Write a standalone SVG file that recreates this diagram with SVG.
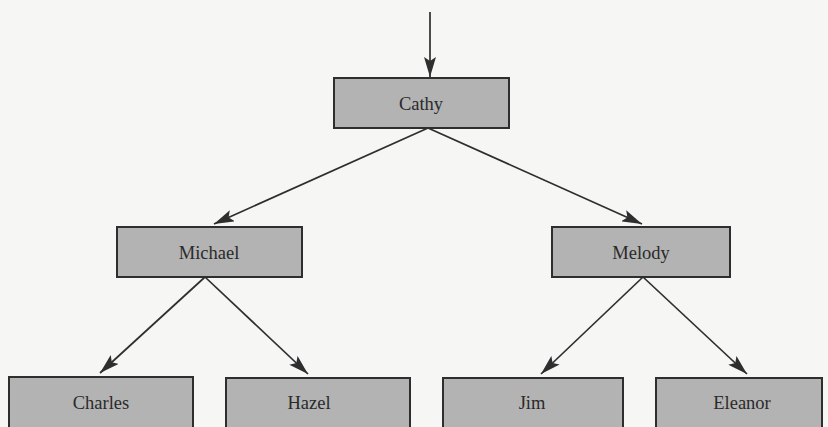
<svg xmlns="http://www.w3.org/2000/svg" width="828" height="427" viewBox="0 0 828 427">
<style>
.box{fill:#b3b3b3;stroke:#2e2e2e;stroke-width:2}
.lbl{font-family:"Liberation Serif",serif;font-size:18.5px;fill:#2a2a2a;text-anchor:middle}
.edge{stroke:#2e2e2e;stroke-width:1.7;fill:none;marker-end:url(#ah)}
</style>
<defs>
<marker id="ah" viewBox="0 0 20 12" refX="20" refY="6" markerWidth="20" markerHeight="12" markerUnits="userSpaceOnUse" orient="auto">
<path d="M0,0 L20,6 L0,12 L4,6 Z" fill="#2e2e2e"/>
</marker>
</defs>
<rect width="828" height="427" fill="#f6f6f4"/>
<g id="connectors">
<line class="edge" x1="430" y1="12" x2="430" y2="77"/>
<line class="edge" x1="428" y1="128" x2="214" y2="224"/>
<line class="edge" x1="428" y1="128" x2="642" y2="224"/>
<line class="edge" x1="205" y1="277" x2="100" y2="373"/>
<line class="edge" x1="205" y1="277" x2="308" y2="374"/>
<line class="edge" x1="643" y1="277" x2="541" y2="374"/>
<line class="edge" x1="643" y1="277" x2="747" y2="374"/>
</g>
<g id="cathy"><rect class="box" x="334" y="78" width="175" height="50"/><text class="lbl" x="421" y="110">Cathy</text></g>
<g id="michael"><rect class="box" x="117" y="227" width="185" height="50"/><text class="lbl" x="209" y="259">Michael</text></g>
<g id="melody"><rect class="box" x="552" y="227" width="178" height="50"/><text class="lbl" x="641" y="259">Melody</text></g>
<g id="charles"><rect class="box" x="9" y="377" width="184" height="55"/><text class="lbl" x="101" y="409">Charles</text></g>
<g id="hazel"><rect class="box" x="226" y="378" width="184" height="55"/><text class="lbl" x="309" y="409">Hazel</text></g>
<g id="jim"><rect class="box" x="443" y="378" width="180" height="55"/><text class="lbl" x="532" y="409">Jim</text></g>
<g id="eleanor"><rect class="box" x="656" y="378" width="166" height="55"/><text class="lbl" x="742" y="409">Eleanor</text></g>
</svg>
